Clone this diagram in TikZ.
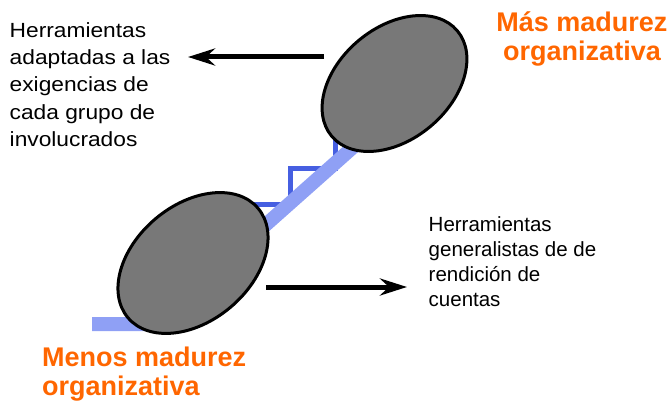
\documentclass[tikz,border=0pt]{standalone}
\usepackage{fontspec}
\setmainfont{Liberation Sans}
\newfontfamily\widesans{Liberation Sans}[FakeStretch=1.11]
\usepackage{xcolor}
\usepackage{tikz}
\usetikzlibrary{shapes.geometric}
\usetikzlibrary{arrows.meta}

\definecolor{madurez}{RGB}{255,102,0}
\definecolor{escalon}{RGB}{70,95,225}
\definecolor{rampa}{RGB}{143,160,245}
\definecolor{nivelgris}{RGB}{120,120,120}

\begin{document}
\begin{tikzpicture}[x=1pt,y=-1pt,
	nivel/.style={ellipse, draw=black, line width=3pt, fill=nivelgris, minimum width=170pt, minimum height=116pt, inner sep=0pt, rotate=40},
	flecha/.style={line width=5pt, -{Stealth[length=27pt,width=17pt,inset=9pt]}},
	texto/.style={inner sep=0pt, align=left, font=\fontsize{20.5}{25.3}\selectfont},
	titulo/.style={inner sep=0pt, text=madurez, font=\bfseries\fontsize{27}{28.5}\selectfont}]

	\useasboundingbox (0,0) rectangle (671,403);

	% escalera
	\draw [line width=5pt, escalon] (240,205) -- (290,205) -- (290,169) -- (335,169) -- (335,125);
	
	\draw [line width=14pt, rampa] (92,324) -- (154,324) -- (378,125);

	\node [nivel] (menos) at (193,263) {};
	
	\node [nivel, minimum width=164pt, minimum height=112pt] (mas) at (394.5,83.5) {};

	% textos
	\node [texto, anchor=north west, font=\widesans\fontsize{20.5}{27.2}\selectfont] (adaptadas) at (9.5,22.5) {Herramientas\\adaptadas a las\\exigencias de\\cada grupo de\\involucrados};
	
	\node [texto, anchor=north west] (generalistas) at (428.5,216) {Herramientas\\generalistas de de\\rendición de\\cuentas};
	
	\node [titulo, align=center, anchor=north] (masTxt) at (582,12) {Más madurez\\organizativa};
	
	\node [titulo, align=left, anchor=north west] (menosTxt) at (42,347) {Menos madurez\\organizativa};

	% flechas
	\coordinate (masSal) at (324,57);
	\coordinate (adaptadasFin) at (188,57);
	\coordinate (menosSal) at (266,287);
	\coordinate (generalistasFin) at (407,287);
	
	\draw [flecha] (masSal) -- (adaptadasFin);
	
	\draw [flecha] (menosSal) -- (generalistasFin);

\end{tikzpicture}
\end{document}
